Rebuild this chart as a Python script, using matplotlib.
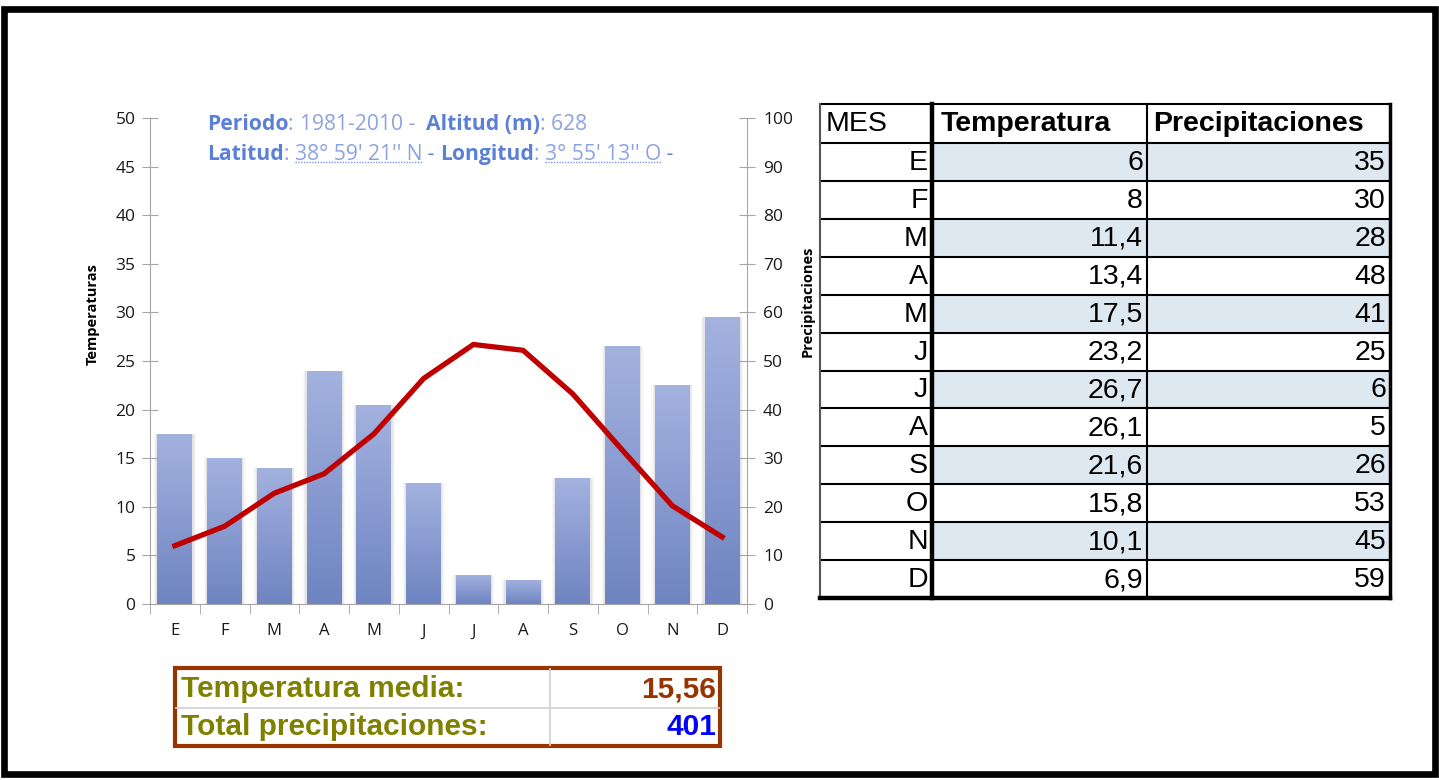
import numpy as np
import matplotlib
matplotlib.use("Agg")
import matplotlib.pyplot as plt
from matplotlib.patches import Rectangle
from matplotlib.colors import LinearSegmentedColormap

# datos climáticos
meses = ["E", "F", "M", "A", "M", "J", "J", "A", "S", "O", "N", "D"]
temperatura = [6, 8, 11.4, 13.4, 17.5, 23.2, 26.7, 26.1, 21.6, 15.8, 10.1, 6.9]
precipitaciones = [35, 30, 28, 48, 41, 25, 6, 5, 26, 53, 45, 59]

periodo = "1981-2010"
altitud = "628"
latitud = "38° 59' 21'' N"
longitud = "3° 55' 13'' O"

W, H = 1439, 780
fig = plt.figure(figsize=(W / 100, H / 100), dpi=100)
fig.patch.set_facecolor("white")


def fx(px):
    return px / W


def fy(py):
    return 1 - py / H


def coma(v):
    return f"{v:g}".replace(".", ",")


# marco negro
fig.patches.append(Rectangle((fx(4), fy(774)), fx(1435) - fx(4), fy(9) - fy(774),
                             transform=fig.transFigure, fill=False, lw=4.8, ec="black"))

# ---------------- climograma ----------------
ax = fig.add_axes([fx(150), fy(604), fx(747) - fx(150), fy(118) - fy(604)])
ax2 = ax.twinx()
x = np.arange(len(meses))

# sombra de las barras
for w, a in [(0.84, 0.05), (0.79, 0.07), (0.75, 0.09)]:
    ax2.bar(x, precipitaciones, width=w, color="#808080", alpha=a, zorder=1, lw=0)

bars = ax2.bar(x, precipitaciones, width=0.7, color="none", lw=0, zorder=2)
grad = np.linspace(0, 1, 100).reshape(-1, 1)
cmap = LinearSegmentedColormap.from_list("azul", ["#6F84C1", "#A3B2DF"])
for b in bars:
    im = ax2.imshow(grad, extent=[b.get_x(), b.get_x() + b.get_width(), 0, b.get_height()],
                    origin="lower", cmap=cmap, aspect="auto", zorder=2)
    im.set_clip_path(b)

ax.plot(x, temperatura, color="#C00000", lw=3.8, solid_joinstyle="round", zorder=5)

ax.set_xlim(-0.5, 11.5)
ax2.set_xlim(-0.5, 11.5)
ax.set_ylim(0, 50)
ax2.set_ylim(0, 100)
ax.set_zorder(ax2.get_zorder() + 1)
ax.patch.set_visible(False)

gris = "#A6A6A6"
for s in ["top", "right"]:
    ax.spines[s].set_visible(False)
for s in ["top", "left", "bottom"]:
    ax2.spines[s].set_visible(False)
ax.spines["left"].set_color(gris)
ax.spines["bottom"].set_color(gris)
ax2.spines["right"].set_color(gris)

ax.set_yticks(range(0, 51, 5))
ax2.set_yticks(range(0, 101, 10))
ax.tick_params(axis="y", direction="inout", length=11, color=gris, labelsize=12.5,
               labelcolor="#1a1a1a", pad=5)
ax2.tick_params(axis="y", direction="inout", length=11, color=gris, labelsize=12.5,
                labelcolor="#1a1a1a", pad=6)
ax.set_xticks(x, meses)
ax.set_xticks(np.arange(-0.5, 12, 1), minor=True)
ax.tick_params(axis="x", which="major", length=0, pad=14, labelsize=12, labelcolor="#1a1a1a")
ax.tick_params(axis="x", which="minor", length=7, color=gris, direction="out")
for t in ax.get_yticklabels() + ax2.get_yticklabels() + ax.get_xticklabels():
    t.set_family("Open Sans")

fig.text(fx(93), fy(314), "Temperaturas", rotation=90, fontsize=10.5, fontweight="bold",
         family="Open Sans", ha="center", va="center")
fig.text(fx(808), fy(301), "Precipitaciones", rotation=90, fontsize=10.5, fontweight="bold",
         family="Open Sans", ha="center", va="center")

# encabezado con datos de la estación
fuerte = "#5B80D8"
suave = "#8DA3E1"
lineas = [
    [("Periodo", fuerte, "bold", False), (": ", suave, "normal", False),
     (periodo + " -  ", suave, "normal", False), ("Altitud (m)", fuerte, "bold", False),
     (": " + altitud, suave, "normal", False)],
    [("Latitud", fuerte, "bold", False), (": ", suave, "normal", False),
     (latitud, suave, "normal", True), (" - ", fuerte, "normal", False),
     ("Longitud", fuerte, "bold", False), (": ", suave, "normal", False),
     (longitud, suave, "normal", True), (" -", fuerte, "normal", False)],
]
r = fig.canvas.get_renderer()
subrayar = []
for i, linea in enumerate(lineas):
    xpos = 207
    for txt, col, peso, sub in linea:
        t = fig.text(fx(xpos), fy(130 + 30 * i), txt, color=col, fontweight=peso,
                     fontsize=15.2, family="Open Sans", ha="left", va="baseline")
        ext = t.get_window_extent(r)
        xpos += ext.width
        if sub:
            subrayar.append(ext)
for ext in subrayar:
    yb = ext.y0 + 3
    fig.add_artist(plt.Line2D([ext.x0 / W, ext.x1 / W], [yb / H, yb / H], color="#7F97DD",
                              lw=1, ls=(0, (1, 1)), transform=fig.transFigure))

# ---------------- tabla de datos ----------------
tab = fig.add_axes([fx(820), fy(598), fx(1390) - fx(820), fy(104) - fy(598)])
tab.set_xlim(0, 570)
tab.set_ylim(494, 0)
tab.axis("off")
col_x = [0, 112, 327, 570]
alto = (494 - 39) / len(meses)
row_y = [0, 39] + [39 + alto * (i + 1) for i in range(len(meses))]

for i in range(len(meses)):
    if i % 2 == 0:
        tab.add_patch(Rectangle((col_x[1], row_y[i + 1]), col_x[3] - col_x[1], alto,
                                color="#DDE8F0", lw=0))

fs = 20.5
tab.text(6, 20, "MES", fontsize=fs, family="Liberation Sans", va="center", ha="left")
tab.text(col_x[1] + 9, 20, "Temperatura", fontsize=fs, fontweight="bold",
         family="Liberation Sans", va="center", ha="left")
tab.text(col_x[2] + 6, 20, "Precipitaciones", fontsize=fs, fontweight="bold",
         family="Liberation Sans", va="center", ha="left")
for i, (m, t, p) in enumerate(zip(meses, temperatura, precipitaciones)):
    yc = row_y[i + 1] + alto / 2 + 1
    tab.text(col_x[1] - 4, yc, m, fontsize=fs, family="Liberation Sans", va="center", ha="right")
    tab.text(col_x[2] - 4, yc, coma(t), fontsize=fs, family="Liberation Sans", va="center", ha="right")
    tab.text(col_x[3] - 4, yc, str(p), fontsize=fs, family="Liberation Sans", va="center", ha="right")

for yv in row_y[1:-1]:
    tab.plot([0, 570], [yv, yv], color="black", lw=1.5, clip_on=False)
tab.plot([col_x[2], col_x[2]], [0, 494], color="black", lw=1.5, clip_on=False)
tab.plot([col_x[1], col_x[1]], [0, 494], color="black", lw=3.2, clip_on=False)
tab.plot([0, 570], [0, 0], color="black", lw=1.5, clip_on=False)
tab.plot([0, 0], [0, 494], color="#555555", lw=1.5, clip_on=False)
tab.plot([570, 570], [0, 494], color="black", lw=2.5, clip_on=False)
tab.plot([0, 570], [494, 494], color="black", lw=3.2, clip_on=False)

# ---------------- resumen ----------------
media = sum(temperatura) / len(temperatura)
total = sum(precipitaciones)
res = fig.add_axes([fx(175), fy(746), fx(720) - fx(175), fy(668) - fy(746)])
res.set_xlim(0, 545)
res.set_ylim(78, 0)
res.axis("off")
res.plot([375, 375], [0, 78], color="#D0D0D0", lw=1.2)
res.plot([0, 545], [40, 40], color="#D0D0D0", lw=1.2)
res.add_patch(Rectangle((0, 0), 545, 78, fill=False, ec="#993300", lw=3, clip_on=False))
oliva = "#808000"
fs2 = 21.5
res.text(6, 21, "Temperatura media:", fontsize=fs2, fontweight="bold", color=oliva,
         family="Liberation Sans", va="center", ha="left")
res.text(6, 59, "Total precipitaciones:", fontsize=fs2, fontweight="bold", color=oliva,
         family="Liberation Sans", va="center", ha="left")
res.text(541, 21, f"{media:.2f}".replace(".", ","), fontsize=fs2, fontweight="bold",
         color="#993300", family="Liberation Sans", va="center", ha="right")
res.text(541, 59, str(total), fontsize=fs2, fontweight="bold", color="#0000FF",
         family="Liberation Sans", va="center", ha="right")

fig.savefig("out.png", dpi=100)
